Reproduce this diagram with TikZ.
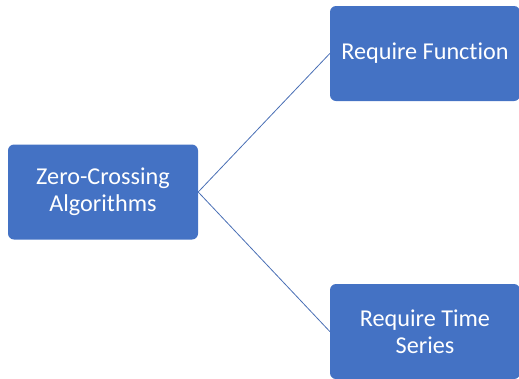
\documentclass[tikz,border=0pt]{standalone}
\usepackage{fontspec}
\setmainfont[Ligatures=NoCommon]{Carlito}
\usetikzlibrary{positioning}
\definecolor{boxblue}{HTML}{4472C4}
\definecolor{lineblue}{HTML}{4A6FB5}

\begin{document}
\begin{tikzpicture}[x=1pt, y=-1pt,
  box/.style={draw=none, fill=boxblue, rounded corners=6pt, text=white,
    align=center, minimum width=190pt, minimum height=95pt, inner sep=0pt,
    font=\fontsize{24.2}{27}\selectfont},
  link/.style={draw=lineblue, line width=0.8pt}]
\useasboundingbox (0,0) rectangle (519,378);
\node (zc) [box] at (103,192) {Zero-Crossing\\Algorithms};
\node (rf) [box] at (425,53.5) {Require Function};
\node (rt) [box] at (425,331.5) {Require Time\\Series};
\draw[link] (zc.east) -- (rf.west);
\draw[link] (zc.east) -- (rt.west);
\end{tikzpicture}
\end{document}
